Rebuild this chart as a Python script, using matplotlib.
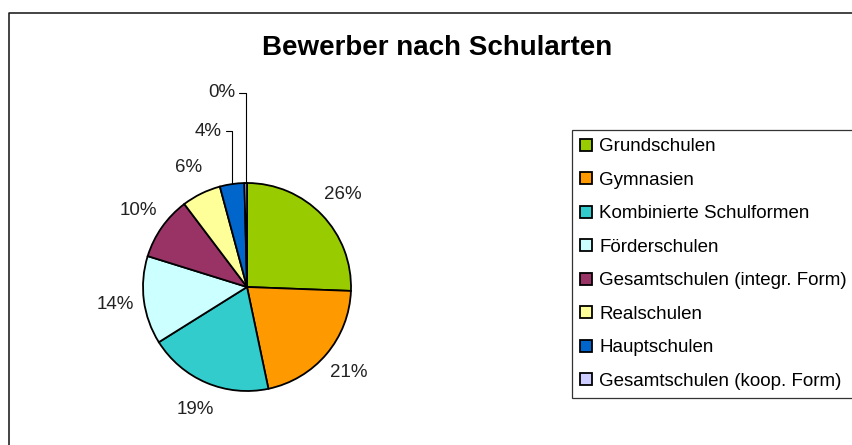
import numpy as np
import matplotlib.pyplot as plt
from matplotlib.lines import Line2D

plt.rcParams['font.family'] = ['Liberation Sans', 'DejaVu Sans']

schularten = ['Grundschulen', 'Gymnasien', 'Kombinierte Schulformen', 'Förderschulen',
              'Gesamtschulen (integr. Form)', 'Realschulen', 'Hauptschulen',
              'Gesamtschulen (koop. Form)']
anteile = [25.6, 21.1, 19.4, 13.7, 9.9, 6.1, 3.8, 0.4]
farben = ['#99CC00', '#FF9900', '#33CCCC', '#CCFFFF', '#993366', '#FFFF99', '#0066CC', '#CCCCFF']

W, H = 852, 445
fig = plt.figure(figsize=(W / 100, H / 100), dpi=100)
# Diagrammrahmen (nur links/oben sichtbar, Rest abgeschnitten)
fig.lines.append(Line2D([8.5 / W, 8.5 / W, 1], [0, 1 - 12.5 / H, 1 - 12.5 / H],
                        transform=fig.transFigure, color='#111111', lw=1.1))

cx, cy, R = 247, 445 - 287, 104
ax = fig.add_axes([(cx - R) / W, (cy - R) / H, 2 * R / W, 2 * R / H])

wedges, _ = ax.pie(anteile, colors=farben, startangle=90, counterclock=False, radius=1,
                   wedgeprops=dict(edgecolor='black', linewidth=1.3))
ax.set_xlim(-1, 1)
ax.set_ylim(-1, 1)
ax.axis('off')

# Prozentlabels
for i, w in enumerate(wedges):
    lbl = f'{round(anteile[i]):.0f}%'
    mid = np.radians((w.theta1 + w.theta2) / 2)
    if anteile[i] < 5:
        px, py = np.cos(mid), np.sin(mid)
        ty = 1.5 if anteile[i] > 1 else 1.87
        ax.annotate(lbl, xy=(px, py), xytext=(px - 0.1, ty), ha='right', va='center',
                    fontsize=13.5, color='#222222',
                    arrowprops=dict(arrowstyle='-', color='black', lw=0.8, shrinkA=1, shrinkB=0,
                                    connectionstyle='angle,angleA=0,angleB=90,rad=0'))
    else:
        ax.text(1.28 * np.cos(mid), 1.28 * np.sin(mid), lbl, ha='center', va='center',
                fontsize=13.5, color='#222222')

fig.text(437 / W, 1 - 48 / H, 'Bewerber nach Schularten', ha='center', va='center',
         fontsize=20, fontweight='bold')

leg = fig.legend(wedges, schularten, loc='upper left', bbox_to_anchor=(572 / W, 1 - 130 / H),
                 frameon=True, fancybox=False, edgecolor='black', fontsize=13.5,
                 handlelength=0.6, handleheight=0.6, handletextpad=0.4,
                 labelspacing=0.88, borderpad=0.45, borderaxespad=0)
leg.get_frame().set_linewidth(0.9)

fig.savefig('out.png', dpi=100)
